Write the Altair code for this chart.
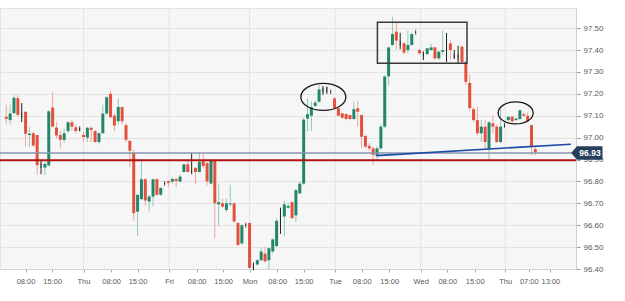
import altair as alt
import pandas as pd

# ---- candle data (hourly candles) ----
opens = [97.095, 97.08, 97.112, 97.18, 97.103, 97.118, 97.012, 97.02, 97.012, 96.873,
         96.863, 96.873, 97.137, 97.046, 97.012, 96.99, 97.03, 97.07, 97.047, 97.04,
         97.012, 97.00, 97.045, 97.03, 96.98, 97.02, 97.11, 97.20, 97.10, 97.075,
         97.14, 97.057, 96.985, 96.93, 96.662, 96.719, 96.81, 96.708, 96.731, 96.81,
         96.739, 96.79, 96.801, 96.799, 96.811, 96.799, 96.843, 96.878, 96.843, 96.862,
         96.843, 96.895, 96.883, 96.79, 96.895, 96.695, 96.70, 96.67, 96.695, 96.70,
         96.61, 96.517, 96.60, 96.61, 96.405, 96.42, 96.44, 96.47, 96.44, 96.48,
         96.505, 96.632, 96.64, 96.68, 96.705, 96.645, 96.745, 96.79, 97.087, 97.10,
         97.145, 97.164, 97.218, 97.22, 97.21, 97.179, 97.134, 97.111, 97.108, 97.103,
         97.085, 97.134, 97.103, 97.008, 96.962, 96.951, 96.916, 96.951, 97.05, 97.28,
         97.423, 97.484, 97.431, 97.431, 97.40, 97.423, 97.481, 97.40, 97.382, 97.382,
         97.40, 97.412, 97.362, 97.392, 97.413, 97.43, 97.372, 97.368, 97.415, 97.345,
         97.25, 97.13, 97.08, 97.02, 97.05, 96.95, 97.065, 97.05, 96.98, 97.057,
         97.08, 97.095, 97.08, 97.085, 97.107, 97.10, 97.057, 96.947]
closes = [97.086, 97.11, 97.182, 97.104, 97.103, 97.018, 97.018, 96.964, 96.874, 96.873,
          96.88, 97.12, 97.05, 97.01, 96.99, 97.02, 97.07, 97.05, 97.03, 97.04,
          97.003, 97.045, 97.035, 96.98, 97.02, 97.11, 97.184, 97.093, 97.055, 97.14,
          97.075, 96.99, 96.94, 96.655, 96.739, 96.81, 96.713, 96.731, 96.81, 96.739,
          96.77, 96.79, 96.793, 96.811, 96.802, 96.822, 96.878, 96.843, 96.843, 96.843,
          96.89, 96.871, 96.80, 96.895, 96.70, 96.705, 96.685, 96.70, 96.70, 96.617,
          96.51, 96.60, 96.60, 96.405, 96.405, 96.44, 96.48, 96.435, 96.495, 96.535,
          96.62, 96.632, 96.695, 96.688, 96.632, 96.76, 96.79, 97.082, 97.107, 97.139,
          97.16, 97.22, 97.218, 97.22, 97.21, 97.134, 97.10, 97.091, 97.085, 97.085,
          97.13, 97.118, 97.004, 96.959, 96.951, 96.921, 96.951, 97.05, 97.279, 97.412,
          97.473, 97.443, 97.431, 97.388, 97.423, 97.473, 97.481, 97.385, 97.382, 97.408,
          97.412, 97.362, 97.392, 97.40, 97.413, 97.40, 97.372, 97.368, 97.345, 97.255,
          97.135, 97.08, 97.02, 97.05, 96.98, 97.07, 97.05, 96.98, 97.05, 97.057,
          97.095, 97.075, 97.087, 97.125, 97.10, 97.075, 96.96, 96.932]
highs = [97.15, 97.15, 97.194, 97.194, 97.158, 97.12, 97.048, 97.028, 97.012, 96.894,
         96.89, 97.125, 97.21, 97.07, 97.03, 97.04, 97.075, 97.08, 97.06, 97.045,
         97.027, 97.05, 97.05, 97.035, 97.025, 97.15, 97.19, 97.215, 97.11, 97.18,
         97.14, 97.067, 96.99, 96.944, 96.74, 96.90, 96.815, 96.74, 96.81, 96.815,
         96.775, 96.792, 96.805, 96.82, 96.815, 96.83, 96.88, 96.895, 96.93, 96.865,
         96.93, 96.93, 96.89, 96.90, 96.90, 96.79, 96.72, 96.72, 96.785, 96.705,
         96.615, 96.605, 96.605, 96.612, 96.43, 96.445, 96.50, 96.50, 96.50, 96.54,
         96.63, 96.68, 96.71, 96.70, 96.71, 96.765, 96.80, 97.09, 97.18, 97.165,
         97.17, 97.24, 97.235, 97.233, 97.212, 97.185, 97.135, 97.115, 97.11, 97.105,
         97.165, 97.166, 97.105, 97.01, 96.975, 96.96, 96.96, 97.06, 97.285, 97.415,
         97.552, 97.525, 97.479, 97.435, 97.488, 97.48, 97.483, 97.405, 97.392, 97.41,
         97.43, 97.415, 97.395, 97.488, 97.478, 97.445, 97.40, 97.42, 97.42, 97.35,
         97.29, 97.14, 97.14, 97.08, 97.08, 97.075, 97.10, 97.06, 97.135, 97.06,
         97.10, 97.10, 97.09, 97.128, 97.115, 97.115, 97.06, 96.96]
lows = [97.06, 97.06, 97.108, 97.094, 97.071, 96.959, 96.958, 96.958, 96.83, 96.833,
        96.83, 96.87, 97.05, 96.995, 96.95, 96.975, 97.02, 97.033, 97.02, 97.03,
        96.98, 96.98, 96.98, 96.975, 96.97, 97.02, 97.105, 97.088, 97.03, 97.058,
        97.06, 96.98, 96.865, 96.62, 96.552, 96.715, 96.69, 96.662, 96.686, 96.735,
        96.735, 96.788, 96.774, 96.79, 96.774, 96.795, 96.84, 96.84, 96.838, 96.79,
        96.84, 96.86, 96.78, 96.785, 96.54, 96.595, 96.68, 96.66, 96.685, 96.61,
        96.505, 96.51, 96.598, 96.40, 96.397, 96.415, 96.435, 96.43, 96.40, 96.47,
        96.50, 96.56, 96.55, 96.675, 96.63, 96.615, 96.745, 96.785, 97.027, 97.03,
        97.14, 97.16, 97.195, 97.20, 97.208, 97.13, 97.10, 97.085, 97.08, 97.08,
        97.08, 97.05, 96.952, 96.95, 96.94, 96.876, 96.89, 96.945, 97.045, 97.24,
        97.42, 97.403, 97.403, 97.38, 97.385, 97.42, 97.479, 97.38, 97.354, 97.375,
        97.398, 97.355, 97.355, 97.377, 97.345, 97.355, 97.36, 97.34, 97.34, 97.24,
        97.12, 97.07, 97.01, 96.98, 96.95, 96.895, 97.02, 96.975, 96.975, 97.05,
        97.075, 97.07, 97.078, 97.08, 97.095, 97.07, 96.92, 96.92]

# ---- axis ticks ----
x_tick_pos = [5.0, 11.9, 20.0, 27.15, 34.0, 42.15, 49.3, 56.15, 63.0, 70.15,
              77.0, 85.15, 92.05, 99.15, 107.3, 114.2, 121.3, 129.2, 135.3, 140.9]
x_tick_lab = ["08:00", "15:00", "Thu", "08:00", "15:00", "Fri", "08:00", "15:00", "Mon", "08:00",
              "15:00", "Tue", "08:00", "15:00", "Wed", "08:00", "15:00", "Thu", "07:00", "13:00"]
day_pos = [20.0, 42.15, 63.0, 85.15, 107.3, 129.2]
y_ticks = [96.40, 96.50, 96.60, 96.70, 96.80, 96.90, 97.00, 97.10, 97.20, 97.30, 97.40, 97.50]

# ---- annotations ----
support_red = 96.897
last_price = 96.93
trend_x = [95.85, 146.2]
trend_y = [96.918, 96.97]
box_x = [96.1, 119.3]
box_y = [97.34, 97.527]
ell1 = (82.1, 97.186)
ell2 = (131.9, 97.113)

X_DOM = [-0.33, 146.23]
Y_DOM = [96.40, 97.592]

df = pd.DataFrame({"i": list(range(len(opens))), "open": opens, "close": closes,
                   "high": highs, "low": lows})
df["dir"] = ["up" if c > o else ("down" if c < o else "flat") for o, c in zip(opens, closes)]

xs = alt.Scale(domain=X_DOM, nice=False, zero=False)
ys = alt.Scale(domain=Y_DOM, nice=False, zero=False)

lab_expr = "[" + ",".join("'%s'" % s for s in x_tick_lab) + "][indexof([" + \
    ",".join(str(v) for v in x_tick_pos) + "], datum.value)]"

FONT = "Liberation Sans"
base = alt.Chart(df)

x_axis = alt.Axis(values=x_tick_pos, labelExpr=lab_expr, grid=False, title=None,
                  labelFont=FONT, labelFontSize=7.5, labelColor="#5a5a5a",
                  tickColor="#aaaaaa", tickSize=3, domainColor="#d0d5dc",
                  labelPadding=5, labelFlush=False, labelOverlap=False)
y_axis = alt.Axis(orient="right", values=y_ticks, format=".2f", title=None,
                  labelFont=FONT, labelFontSize=8, labelColor="#5a5a5a",
                  tickColor="#999999", tickSize=4, domainColor="#c9d1dc",
                  gridColor="#e3e3e3", grid=True, labelPadding=3, labelOverlap=False,
                  labelFlush=False)

wick_col = alt.Color("dir:N", legend=None,
                     scale=alt.Scale(domain=["up", "down", "flat"],
                                     range=["#8fc9b6", "#f1a598", "#222222"]))
body_col = alt.Color("dir:N", legend=None,
                     scale=alt.Scale(domain=["up", "down", "flat"],
                                     range=["#23866a", "#e2513d", "#222222"]))

days = alt.Chart(pd.DataFrame({"d": day_pos})).mark_rule(color="#e3e3e3", strokeWidth=1).encode(
    x=alt.X("d:Q", scale=xs, axis=x_axis),
)

wicks = base.mark_rule(strokeWidth=1).encode(
    x=alt.X("i:Q", scale=xs, axis=x_axis),
    y=alt.Y("low:Q", scale=ys, axis=y_axis),
    y2="high:Q",
    color=wick_col,
)
bodies = base.transform_filter("datum.dir != 'flat'").mark_bar(size=3).encode(
    x=alt.X("i:Q", scale=xs, axis=x_axis), y=alt.Y("open:Q", scale=ys, axis=y_axis),
    y2="close:Q", color=body_col)
dojis = base.transform_filter("datum.dir == 'flat'").mark_tick(
    thickness=1, size=5, color="#222222").encode(
    x=alt.X("i:Q", scale=xs, axis=x_axis), y=alt.Y("close:Q", scale=ys, axis=y_axis))

hl = alt.Chart(pd.DataFrame({"p": [last_price]})).mark_rule(color="#8797ab", strokeWidth=1.5).encode(
    y=alt.Y("p:Q", scale=ys, axis=y_axis))
red = alt.Chart(pd.DataFrame({"p": [support_red]})).mark_rule(color="#b31212", strokeWidth=2).encode(
    y=alt.Y("p:Q", scale=ys, axis=y_axis))
trend = alt.Chart(pd.DataFrame({"x": trend_x, "y": trend_y})).mark_line(
    color="#1b4aa6", strokeWidth=1.6, clip=True).encode(
    x=alt.X("x:Q", scale=xs, axis=x_axis), y=alt.Y("y:Q", scale=ys, axis=y_axis))
rect = alt.Chart(pd.DataFrame({"x": [box_x[0]], "x2": [box_x[1]], "y": [box_y[0]], "y2": [box_y[1]]})).mark_rect(
    fillOpacity=0, stroke="#3a3a3a", strokeWidth=1.5).encode(
    x=alt.X("x:Q", scale=xs, axis=x_axis), x2="x2:Q",
    y=alt.Y("y:Q", scale=ys, axis=y_axis), y2="y2:Q")

ELL1 = "M -1 0 A 1 0.6 0 1 0 1 0 A 1 0.6 0 1 0 -1 0 Z"
ELL2 = "M -1 0 A 1 0.63 0 1 0 1 0 A 1 0.63 0 1 0 -1 0 Z"
e1 = alt.Chart(pd.DataFrame({"x": [ell1[0]], "y": [ell1[1]]})).mark_point(
    shape=ELL1, size=2025, filled=False, stroke="#1a1a1a", strokeWidth=1.3, opacity=1).encode(
    x=alt.X("x:Q", scale=xs, axis=x_axis), y=alt.Y("y:Q", scale=ys, axis=y_axis))
e2 = alt.Chart(pd.DataFrame({"x": [ell2[0]], "y": [ell2[1]]})).mark_point(
    shape=ELL2, size=1225, filled=False, stroke="#1a1a1a", strokeWidth=1.3, opacity=1).encode(
    x=alt.X("x:Q", scale=xs, axis=x_axis), y=alt.Y("y:Q", scale=ys, axis=y_axis))

TAG = "M -1 0 L -0.66 -0.4 L 1 -0.4 L 1 0.4 L -0.66 0.4 Z"
lp = pd.DataFrame({"p": [last_price], "t": ["%.2f" % last_price]})
tag = alt.Chart(lp).mark_point(shape=TAG, size=841, filled=True, fill="#27405e",
                               stroke="#27405e", opacity=1, clip=False).encode(
    x=alt.value(587), y=alt.Y("p:Q", scale=ys, axis=y_axis))
tagtxt = alt.Chart(lp).mark_text(font=FONT, fontSize=8.5, fontWeight="bold", color="white",
                                 align="center", baseline="middle", clip=False).encode(
    x=alt.value(590), y=alt.Y("p:Q", scale=ys, axis=y_axis), text="t:N")

chart = alt.layer(days, wicks, bodies, dojis, hl, red, trend, rect, e1, e2, tag, tagtxt).resolve_scale(
    color="independent"
).properties(
    width=576, height=261,
    autosize=alt.AutoSizeParams(type="none"),
    padding={"left": 0, "top": 8, "right": 49, "bottom": 32},
    background="#ffffff",
).configure_view(fill="#f6f6f6", stroke="#dfe4ea"
).configure_axisX(labelOverlap=False).configure_axisY(labelOverlap=False)

chart.save("out.html", embed_options={"renderer": "svg", "actions": False})
